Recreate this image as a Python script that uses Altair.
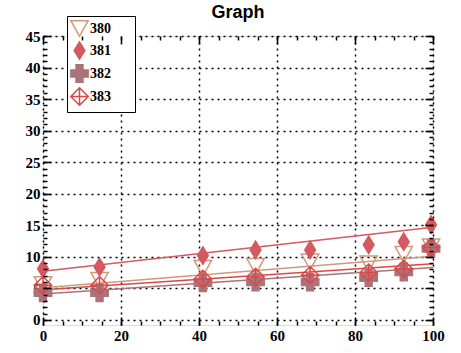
import altair as alt
import pandas as pd

# ---- data ----
x_vals = [0, 14.5, 41, 54.5, 68.5, 83.5, 92.5, 99.5]
s380 = [5.6, 6.3, 8.2, 8.5, 9.2, 8.9, 10.4, 11.6]
s381 = [8.1, 8.4, 10.2, 11.1, 11.1, 11.9, 12.4, 15.1]
s382 = [4.3, 4.3, 5.9, 6.0, 6.0, 6.7, 7.6, 11.3]
s383 = [5.5, 5.5, 6.5, 6.8, 7.1, 7.5, 8.1, 11.5]
series_names = ["380", "381", "382", "383"]

fit_x = [0, 100]
fit380 = [5.1, 10.1]
fit381 = [7.7, 14.7]
fit382 = [4.1, 8.3]
fit383 = [4.8, 8.9]

x_major = [0, 20, 40, 60, 80, 100]
x_minor = list(range(0, 101, 5))
y_major = list(range(0, 46, 5))
y_minor = list(range(0, 46, 1))

# ---- styles ----
stroke_colors = ["#cf9a7c", "#d25a60", "#aa7378", "#dc4848"]
fill_colors = ["transparent", "#d25a60", "#aa7378", "transparent"]
shapes = [
    "M-1,-0.9L1,-0.9L0,0.9Z",
    "M0,-1L0.62,0L0,1L-0.62,0Z",
    "cross",
    "M0,-1L1,0L0,1L-1,0Z M0,-1L0,1 M-1,0L1,0",
]

rows = []
for name, ys in zip(series_names, [s380, s381, s382, s383]):
    for xv, yv in zip(x_vals, ys):
        rows.append({"series": name, "x": xv, "y": yv})
pts = pd.DataFrame(rows)

frows = []
for name, ys in zip(series_names, [fit380, fit381, fit382, fit383]):
    for xv, yv in zip(fit_x, ys):
        frows.append({"series": name, "x": xv, "y": yv})
fits = pd.DataFrame(frows)

xs = alt.Scale(domain=[0, 100], nice=False, zero=False)
ys_ = alt.Scale(domain=[-0.8, 45], nice=False, zero=False)

FONT = "Liberation Serif"

def label_axis(orient, values):
    return alt.Axis(
        orient=orient, values=values, title=None, ticks=False, domain=False,
        grid=True, gridColor="black", gridDash=[2, 4], gridWidth=1.5, gridOpacity=1,
        labelFont=FONT, labelFontWeight="bold", labelFontSize=15, labelColor="black",
        labelFlush=False, labelPadding=3, labelOverlap=False,
    )

def tick_axis(orient, values, size):
    return alt.Axis(
        orient=orient, values=values, title=None, labels=False, domain=False,
        grid=False, ticks=True, tickSize=size, tickWidth=1.5, tickColor="black",
        offset=-size, zindex=1,
    )

# trailing blank space (kept by a zero-width char) widens the legend box like the reference
legend = alt.Legend(
    title=None, orient="none", legendX=24, legendY=-20,
    fillColor="white", strokeColor="black", padding=3,
    labelFont=FONT, labelFontWeight="bold", labelFontSize=14, labelColor="black",
    labelExpr="datum.label + '\u2002\u2002\u2002\u200b'",
    symbolSize=300, symbolStrokeWidth=1.5, rowPadding=-2, labelOffset=1,
)

# one fit line per series, coloured directly (no scale, so no legend)
line_layers = []
for i, name in enumerate(series_names):
    ax_x = label_axis("bottom", x_major) if i == 0 else None
    ax_y = label_axis("left", y_major) if i == 0 else None
    line_layers.append(
        alt.Chart(fits).transform_filter(alt.datum.series == name)
        .mark_line(strokeWidth=1.5, color=stroke_colors[i])
        .encode(
            x=alt.X("x:Q", scale=xs, axis=ax_x),
            y=alt.Y("y:Q", scale=ys_, axis=ax_y),
        )
    )

points = alt.Chart(pts).mark_point(size=300, strokeWidth=1.5, opacity=1).encode(
    x=alt.X("x:Q", scale=xs, axis=None),
    y=alt.Y("y:Q", scale=ys_, axis=None),
    stroke=alt.Stroke("series:N", scale=alt.Scale(domain=series_names, range=stroke_colors), legend=legend),
    fill=alt.Fill("series:N", scale=alt.Scale(domain=series_names, range=fill_colors), legend=legend),
    shape=alt.Shape("series:N", scale=alt.Scale(domain=series_names, range=shapes), legend=legend),
)

def tick_layer(xo, yo, xv, yv, size):
    return alt.Chart(pts).mark_point(opacity=0).encode(
        x=alt.X("x:Q", scale=xs, axis=tick_axis(xo, xv, size)),
        y=alt.Y("y:Q", scale=ys_, axis=tick_axis(yo, yv, size)),
    )

chart = alt.layer(
    *line_layers,
    points,
    tick_layer("bottom", "left", x_major, y_major, 8),
    tick_layer("bottom", "left", x_minor, y_minor, 4),
    tick_layer("top", "right", x_major, y_major, 8),
    tick_layer("top", "right", x_minor, y_minor, 4),
).resolve_axis(x="independent", y="independent").properties(
    width=390, height=289,
    autosize=alt.AutoSizeParams(type="none"),
    padding={"left": 43, "top": 36, "right": 28, "bottom": 28},
    title=alt.TitleParams(
        "Graph", font="Liberation Sans", fontWeight="bold", fontSize=18,
        color="black", anchor="middle", baseline="alphabetic", offset=-20,
    ),
).configure_view(stroke="black", strokeWidth=2).configure(background="white")

chart.save("out.html", embed_options={"renderer": "svg", "actions": False})
